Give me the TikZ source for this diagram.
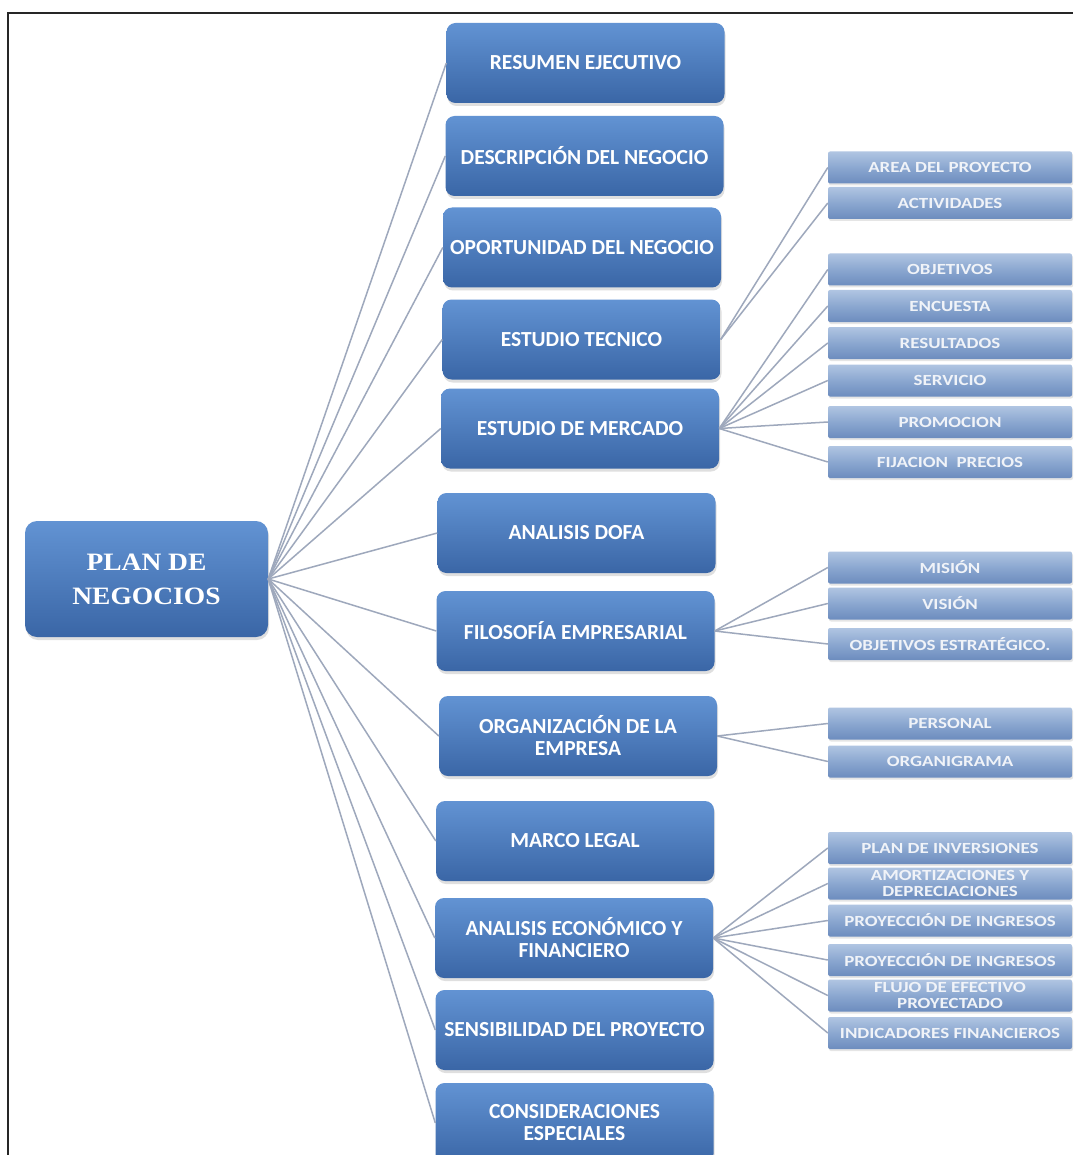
\documentclass[tikz,border=0pt]{standalone}
\usepackage{fontspec}
\setmainfont{Carlito}
\newfontfamily\subfnt[FakeStretch=1.22]{Carlito}
\newfontfamily\rootfnt[FakeStretch=1.1]{Liberation Serif}
\usetikzlibrary{shadows}
\definecolor{boxtop}{RGB}{98,147,211}
\definecolor{boxbot}{RGB}{58,102,166}
\definecolor{subtop}{RGB}{176,197,226}
\definecolor{submid}{RGB}{139,167,208}
\definecolor{subbot}{RGB}{108,140,190}
\definecolor{linkc}{RGB}{158,168,188}
\definecolor{subtext}{RGB}{240,243,248}
\tikzset{
  mainbox/.style={rectangle, rounded corners=9pt, top color=boxtop, bottom color=boxbot,
    minimum width=278pt, minimum height=80pt, inner sep=2pt, text=white, align=center,
    font=\fontsize{21.5}{22}\selectfont\bfseries,
    drop shadow={opacity=0.25, shadow xshift=1pt, shadow yshift=-3pt}},
  rootbox/.style={rectangle, rounded corners=12pt, top color=boxtop, bottom color=boxbot,
    minimum width=243pt, minimum height=116pt, inner sep=2pt, text=white, align=center,
    font=\fontsize{25}{34}\selectfont\rootfnt\bfseries,
    drop shadow={opacity=0.25, shadow xshift=1pt, shadow yshift=-3pt}},
  subbox/.style={rectangle, rounded corners=2pt, top color=subtop, bottom color=subbot, middle color=submid,
    minimum width=244pt, minimum height=32pt, inner sep=1pt, text=subtext, align=center,
    font=\fontsize{15.5}{15.5}\selectfont\subfnt\bfseries,
    drop shadow={opacity=0.2, shadow xshift=1pt, shadow yshift=-2pt}},
  link/.style={draw=linkc, line width=1.5pt},
  frameline/.style={draw=black!85, line width=2pt}
}
\begin{document}
\begin{tikzpicture}[x=1pt,y=-1pt]
\useasboundingbox[fill=white] (0,0) rectangle (1073,1155);
\draw[frameline] (8,1155) -- (8,13) -- (1073,13);

% root
\node[rootbox] (root) at (146.5,579) {PLAN DE\\NEGOCIOS};

% level 1
\node[mainbox] (r1) at (585.5,63) {RESUMEN EJECUTIVO};
\node[mainbox] (r2) at (584.5,156) {DESCRIPCIÓN DEL NEGOCIO};
\node[mainbox] (r3) at (582,247.5) {OPORTUNIDAD DEL NEGOCIO};
\node[mainbox] (r4) at (581.5,339.5) {ESTUDIO TECNICO};
\node[mainbox] (r5) at (580,428.5) {ESTUDIO DE MERCADO};
\node[mainbox] (r6) at (576.5,533) {ANALISIS DOFA};
\node[mainbox] (r7) at (575.5,631) {FILOSOFÍA EMPRESARIAL};
\node[mainbox] (r8) at (578,736) {ORGANIZACIÓN DE LA\\EMPRESA};
\node[mainbox] (r9) at (575,841) {MARCO LEGAL};
\node[mainbox] (r10) at (574,938) {ANALISIS ECONÓMICO Y\\FINANCIERO};
\node[mainbox] (r11) at (574.5,1030) {SENSIBILIDAD DEL PROYECTO};
\node[mainbox] (r12) at (574.5,1123) {CONSIDERACIONES\\ESPECIALES};

% level 2
\node[subbox] (s1) at (950,167.5) {AREA DEL PROYECTO};
\node[subbox] (s2) at (950,203) {ACTIVIDADES};
\node[subbox] (s3) at (950,269.5) {OBJETIVOS};
\node[subbox] (s4) at (950,306) {ENCUESTA};
\node[subbox] (s5) at (950,343) {RESULTADOS};
\node[subbox] (s6) at (950,380.5) {SERVICIO};
\node[subbox] (s7) at (950,422) {PROMOCION};
\node[subbox] (s8) at (950,462) {FIJACION\ \ PRECIOS};
\node[subbox] (s9) at (950,567.5) {MISIÓN};
\node[subbox] (s10) at (950,603.5) {VISIÓN};
\node[subbox] (s11) at (950,644) {OBJETIVOS ESTRATÉGICO.};
\node[subbox] (s12) at (950,723.5) {PERSONAL};
\node[subbox] (s13) at (950,761.5) {ORGANIGRAMA};
\node[subbox] (s14) at (950,848) {PLAN DE INVERSIONES};
\node[subbox] (s15) at (950,883.5) {AMORTIZACIONES Y\\DEPRECIACIONES};
\node[subbox] (s16) at (950,920.5) {PROYECCIÓN DE INGRESOS};
\node[subbox] (s17) at (950,960) {PROYECCIÓN DE INGRESOS};
\node[subbox] (s18) at (950,995.5) {FLUJO DE EFECTIVO\\PROYECTADO};
\node[subbox] (s19) at (950,1033) {INDICADORES FINANCIEROS};

% connectors
\foreach \n in {r1,r2,r3,r4,r5,r6,r7,r8,r9,r10,r11,r12}
  \draw[link] (root.east) -- (\n.west);
\foreach \n in {s1,s2} \draw[link] (r4.east) -- (\n.west);
\foreach \n in {s3,s4,s5,s6,s7,s8} \draw[link] (r5.east) -- (\n.west);
\foreach \n in {s9,s10,s11} \draw[link] (r7.east) -- (\n.west);
\foreach \n in {s12,s13} \draw[link] (r8.east) -- (\n.west);
\foreach \n in {s14,s15,s16,s17,s18,s19} \draw[link] (r10.east) -- (\n.west);
\end{tikzpicture}
\end{document}
